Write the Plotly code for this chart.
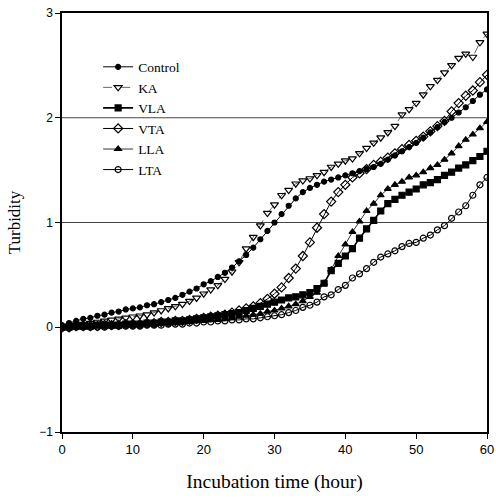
import plotly.graph_objects as go

hours = list(range(0, 61))

control = [0.02, 0.04, 0.06, 0.08, 0.09, 0.11, 0.12, 0.14, 0.15, 0.17,
           0.18, 0.19, 0.21, 0.22, 0.24, 0.26, 0.28, 0.31, 0.34, 0.37,
           0.41, 0.44, 0.48, 0.52, 0.57, 0.63, 0.69, 0.76, 0.84, 0.92,
           1.00, 1.08, 1.16, 1.23, 1.29, 1.33, 1.36, 1.39, 1.41, 1.43,
           1.45, 1.47, 1.49, 1.51, 1.53, 1.56, 1.60, 1.64, 1.68, 1.72,
           1.76, 1.81, 1.86, 1.91, 1.96, 2.00, 2.05, 2.10, 2.16, 2.22, 2.27]

ka = [0.00, 0.01, 0.02, 0.03, 0.04, 0.05, 0.06, 0.07, 0.08, 0.09,
      0.10, 0.11, 0.12, 0.14, 0.16, 0.18, 0.20, 0.22, 0.25, 0.28,
      0.32, 0.36, 0.40, 0.46, 0.53, 0.62, 0.75, 0.86, 0.97, 1.09,
      1.17, 1.26, 1.31, 1.37, 1.40, 1.42, 1.45, 1.48, 1.53, 1.56,
      1.59, 1.61, 1.66, 1.71, 1.76, 1.81, 1.86, 1.92, 2.03, 2.08,
      2.14, 2.22, 2.30, 2.36, 2.43, 2.50, 2.57, 2.61, 2.58, 2.72, 2.80]

vla = [0.00, 0.00, 0.01, 0.01, 0.01, 0.02, 0.02, 0.02, 0.02, 0.03,
       0.03, 0.03, 0.04, 0.04, 0.05, 0.05, 0.06, 0.06, 0.07, 0.08,
       0.09, 0.10, 0.11, 0.12, 0.13, 0.14, 0.16, 0.18, 0.20, 0.22,
       0.24, 0.26, 0.28, 0.29, 0.31, 0.33, 0.37, 0.42, 0.54, 0.61,
       0.68, 0.75, 0.85, 0.94, 1.02, 1.11, 1.18, 1.22, 1.26, 1.29,
       1.32, 1.36, 1.38, 1.41, 1.45, 1.48, 1.52, 1.55, 1.59, 1.63, 1.68]

vta = [0.00, 0.00, 0.01, 0.01, 0.01, 0.01, 0.02, 0.02, 0.02, 0.03,
       0.03, 0.03, 0.04, 0.04, 0.05, 0.05, 0.06, 0.06, 0.07, 0.08,
       0.09, 0.10, 0.11, 0.12, 0.14, 0.16, 0.18, 0.20, 0.23, 0.27,
       0.32, 0.38, 0.47, 0.56, 0.68, 0.81, 0.95, 1.08, 1.20, 1.29,
       1.36, 1.43, 1.47, 1.51, 1.55, 1.58, 1.62, 1.66, 1.70, 1.74,
       1.78, 1.82, 1.87, 1.92, 1.97, 2.06, 2.14, 2.21, 2.26, 2.34, 2.41]

lla = [0.00, 0.00, 0.00, 0.01, 0.01, 0.01, 0.01, 0.02, 0.02, 0.02,
       0.02, 0.03, 0.03, 0.03, 0.04, 0.04, 0.04, 0.05, 0.05, 0.06,
       0.06, 0.07, 0.07, 0.08, 0.09, 0.10, 0.11, 0.12, 0.13, 0.15,
       0.16, 0.18, 0.20, 0.22, 0.25, 0.29, 0.33, 0.42, 0.55, 0.68,
       0.79, 0.91, 1.01, 1.11, 1.18, 1.26, 1.32, 1.36, 1.39, 1.43,
       1.45, 1.48, 1.52, 1.55, 1.60, 1.66, 1.73, 1.79, 1.84, 1.90, 1.96]

lta = [-0.01, -0.01, 0.00, 0.00, 0.00, 0.00, 0.00, 0.01, 0.01, 0.01,
       0.01, 0.01, 0.02, 0.02, 0.02, 0.03, 0.03, 0.03, 0.04, 0.04,
       0.05, 0.05, 0.06, 0.06, 0.07, 0.07, 0.08, 0.08, 0.09, 0.10,
       0.11, 0.12, 0.14, 0.16, 0.19, 0.21, 0.24, 0.29, 0.31, 0.36,
       0.40, 0.47, 0.51, 0.56, 0.62, 0.67, 0.70, 0.73, 0.77, 0.80,
       0.81, 0.85, 0.88, 0.93, 0.97, 1.04, 1.10, 1.16, 1.26, 1.36, 1.43]

grid_levels = [1, 2]

series = [
    ("Control", control, "circle", "solid", 1.0, 5),
    ("KA", ka, "triangle-down-open", "dash", 0.6, 7),
    ("VLA", vla, "square", "solid", 1.6, 6),
    ("VTA", vta, "diamond-open", "solid", 1.0, 7),
    ("LLA", lla, "triangle-up", "solid", 0.8, 6),
    ("LTA", lta, "circle-open", "solid", 1.0, 6),
]

fig = go.Figure()
for lvl in grid_levels:
    fig.add_hline(y=lvl, line=dict(color="#444444", width=1), layer="below")

for name, vals, sym, dash, lw, ms in series:
    fig.add_trace(go.Scatter(
        x=hours, y=vals, name=name, mode="lines+markers",
        line=dict(color="black", width=lw, dash=dash),
        marker=dict(symbol=sym, size=ms, color="black",
                    line=dict(color="black", width=1.2)),
    ))

fig.update_layout(
    width=496, height=502,
    margin=dict(l=62, r=9, t=13, b=70),
    paper_bgcolor="white", plot_bgcolor="white",
    showlegend=True,
    legend=dict(x=0.085, y=0.908, xanchor="left", yanchor="top",
                bgcolor="rgba(0,0,0,0)",
                font=dict(family="Liberation Serif", size=13.5, color="black"),
                tracegroupgap=0, itemwidth=30),
    font=dict(family="Liberation Sans", size=12, color="black"),
)
fig.update_xaxes(
    range=[0, 60], tickvals=[0, 10, 20, 30, 40, 50, 60],
    ticks="outside", ticklen=5, tickcolor="black", tickwidth=1,
    showline=True, linecolor="black", linewidth=1.5, mirror=True,
    showgrid=False, zeroline=False, automargin=False,
    tickfont=dict(family="Liberation Sans", size=13),
    title=dict(text="Incubation time (hour)", standoff=18,
               font=dict(family="Liberation Serif", size=19.5)),
)
fig.update_yaxes(
    range=[-1, 3], tickvals=[-1, 0, 1, 2, 3],
    ticks="outside", ticklen=5, tickcolor="black", tickwidth=1,
    showline=True, linecolor="black", linewidth=1.5, mirror=True,
    showgrid=False, zeroline=False, automargin=False,
    tickfont=dict(family="Liberation Sans", size=12),
    title=dict(text="Turbidity", standoff=14,
               font=dict(family="Liberation Serif", size=17)),
)

fig.write_html("out.html")
